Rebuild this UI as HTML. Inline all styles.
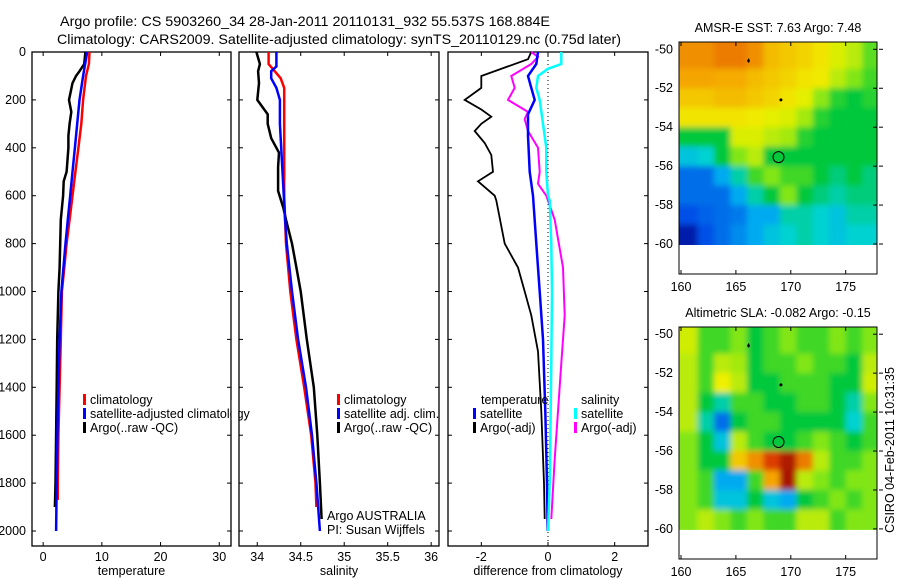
<!DOCTYPE html>
<html><head><meta charset="utf-8"><style>
body{margin:0;background:#fff}
svg{display:block;font-family:"Liberation Sans",sans-serif;font-size:12.5px}
</style></head><body>
<svg id="s" width="900" height="580" xmlns="http://www.w3.org/2000/svg">
<defs>
<clipPath id="c1"><rect x="679" y="42" width="198" height="203"/></clipPath>
<clipPath id="c2"><rect x="679" y="327" width="198" height="203"/></clipPath>
<filter id="bl" x="-5%" y="-5%" width="110%" height="110%"><feGaussianBlur stdDeviation="3"/></filter>
</defs>
<text x="60" y="26" textLength="490" lengthAdjust="spacingAndGlyphs" font-size="14">Argo profile: CS 5903260_34 28-Jan-2011 20110131_932 55.537S 168.884E</text>
<text x="57" y="44" textLength="564" lengthAdjust="spacingAndGlyphs" font-size="14">Climatology: CARS2009. Satellite-adjusted climatology: synTS_20110129.nc (0.75d later)</text>
<g id="g"></g>
<text transform="translate(894,450) rotate(-90)" text-anchor="middle">CSIRO 04-Feb-2011 10:31:35</text>
</svg>
<script>
// ---- data ----
const tClimD=[0,50,100,200,300,400,500,600,700,800,900,1000,1200,1400,1600,1800,1870];
const tClimV=[7.9,7.8,7.3,6.8,6.5,6.0,5.5,5.0,4.5,4.0,3.6,3.2,3.0,2.8,2.6,2.5,2.5];
const tSatD=[0,100,200,300,400,500,600,700,800,1000,1200,1500,1800,2000];
const tSatV=[7.5,6.8,6.2,5.8,5.4,5.0,4.6,4.2,3.8,3.1,2.8,2.5,2.3,2.2];
const tArgD=[0,50,80,100,130,200,250,300,350,400,500,540,600,700,800,900,1000,1200,1400,1600,1800,1900];
const tArgV=[7.2,7.0,6.2,5.6,5.0,4.4,4.8,4.5,4.3,4.3,4.0,3.5,3.4,3.0,2.9,2.8,2.6,2.4,2.3,2.2,2.1,2.0];
const sClimD=[0,50,80,110,150,400,600,800,1000,1200,1400,1600,1800,1900];
const sClimV=[34.13,34.13,34.2,34.27,34.31,34.31,34.31,34.33,34.38,34.45,34.54,34.62,34.67,34.68];
const sSatD=[0,60,80,110,150,200,300,500,700,800,1000,1200,1400,1600,1800,2000];
const sSatV=[34.22,34.22,34.16,34.16,34.22,34.26,34.26,34.29,34.32,34.34,34.4,34.47,34.56,34.63,34.68,34.72];
const sArgD=[0,50,80,130,200,260,300,360,420,480,580,650,700,800,900,1000,1200,1400,1600,1800,1950];
const sArgV=[33.99,34.03,34.01,34.02,34.0,34.12,34.12,34.16,34.25,34.24,34.24,34.3,34.33,34.4,34.45,34.5,34.57,34.65,34.69,34.72,34.74];
const dTArgD=[0,30,60,100,150,200,240,270,300,330,380,430,500,540,600,620,800,900,1000,1100,1250,1500,1800,1950];
const dTArgV=[-0.5,-0.6,-1.2,-2.0,-2.0,-2.5,-2.0,-1.7,-2.0,-2.2,-1.9,-1.7,-1.65,-2.1,-1.6,-1.55,-1.3,-0.9,-0.7,-0.5,-0.3,-0.2,-0.12,-0.1];
const dTSatD=[0,50,100,150,200,260,350,500,600,800,1000,1200,1500,1800,2000];
const dTSatV=[-0.3,-0.35,-0.6,-0.5,-0.4,-0.6,-0.6,-0.55,-0.45,-0.35,-0.25,-0.15,-0.08,-0.03,-0.01];
const dSSatD=[0,50,70,100,150,200,300,400,500,600,620,800,1000,1300,1500,1800,2000];
const dSSatV=[0.4,0.4,0.0,-0.3,-0.35,-0.25,-0.15,-0.05,-0.05,0.0,0.05,0.1,0.12,0.1,0.08,0.05,0.0];
const dSArgD=[0,20,50,100,150,200,250,280,330,400,500,550,600,700,900,1100,1300,1500,1700,1950];
const dSArgV=[-0.5,-0.3,-0.5,-1.1,-1.0,-1.2,-0.6,-0.7,-0.6,-0.3,-0.25,-0.3,-0.05,0.2,0.45,0.5,0.4,0.3,0.2,0.1];
const depthTicks=[0,200,400,600,800,1000,1200,1400,1600,1800,2000];
const tTicks=[0,10,20,30];
const sTicks=[34,34.5,35,35.5,36];
const sTickLabels=["34","34.5","35","35.5","36"];
const dTicks=[-2,0,2];
const lonTicks=[160,165,170,175];
const latTicks=[-50,-52,-54,-56,-58,-60];
const sstGrid=[
[.8,.8,.82,.82,.8,.74,.72,.7,.67,.63,.6,.52],
[.78,.78,.77,.77,.74,.72,.7,.67,.66,.6,.55,.5],
[.72,.72,.74,.74,.72,.7,.67,.64,.56,.48,.45,.48],
[.67,.67,.67,.67,.66,.64,.63,.58,.48,.45,.45,.45],
[.45,.45,.45,.63,.63,.6,.58,.48,.45,.45,.45,.45],
[.35,.38,.45,.55,.6,.45,.45,.45,.45,.45,.45,.45],
[.2,.2,.3,.4,.5,.55,.5,.5,.45,.42,.45,.42],
[.2,.2,.2,.3,.4,.45,.55,.45,.42,.4,.42,.42],
[.15,.18,.2,.22,.3,.3,.4,.4,.38,.35,.4,.4],
[.05,.15,.2,.25,.3,.35,.38,.4,.38,.35,.38,.38]];
const slaGrid=[
[.62,.5,.5,.55,.45,.5,.55,.5,.5,.55,.5,.55],
[.6,.5,.6,.58,.45,.5,.5,.55,.5,.5,.45,.6],
[.6,.5,.65,.6,.45,.45,.5,.5,.5,.45,.45,.62],
[.6,.45,.4,.5,.5,.45,.45,.5,.5,.45,.4,.55],
[.6,.4,.2,.45,.5,.5,.45,.45,.45,.45,.38,.5],
[.55,.45,.35,.6,.5,.45,.45,.5,.55,.5,.45,.5],
[.55,.45,.45,.72,.8,.88,.94,.82,.6,.5,.5,.55],
[.55,.5,.3,.3,.5,.78,.95,.6,.55,.5,.55,.55],
[.55,.5,.35,.35,.45,.35,.3,.45,.5,.55,.5,.55],
[.55,.6,.55,.5,.55,.5,.5,.6,.6,.5,.55,.55]];
const floatLon=168.884, floatLat=-55.537;

// ---- helpers ----
const NS="http://www.w3.org/2000/svg", G=document.getElementById('g');
function mk(tag,at,txt,parent){const e=document.createElementNS(NS,tag);for(const k in at)e.setAttribute(k,at[k]);if(txt!=null)e.textContent=txt;(parent||G).appendChild(e);return e;}
const PT=52, PB=546;
const yD=d=>PT+d*0.2395;
function panel(x0,x1,xmin,xmax,xt,xtl,xlabel,name){
  const sx=v=>x0+(v-xmin)/(xmax-xmin)*(x1-x0);
  const f=mk('rect',{x:x0,y:PT,width:x1-x0,height:PB-PT,fill:'none',stroke:'#000','stroke-width':1.3});
  
  xt.forEach((v,i)=>{const x=sx(v);
    mk('line',{x1:x,x2:x,y1:PB,y2:PB-4,stroke:'#000'});mk('line',{x1:x,x2:x,y1:PT,y2:PT+4,stroke:'#000'});
    const t=mk('text',{x:x,y:PB+15,'text-anchor':'middle'},xtl[i]);});
  depthTicks.forEach(d=>{const y=yD(d);mk('line',{x1:x0,x2:x0+4,y1:y,y2:y,stroke:'#000'});mk('line',{x1:x1,x2:x1-4,y1:y,y2:y,stroke:'#000'});});
  const l=mk('text',{x:(x0+x1)/2,y:575,'text-anchor':'middle'},xlabel);
  return sx;
}
function line(sx,D,V,col,w,name){
  let p='';D.forEach((d,i)=>{p+=(i?'L':'M')+sx(V[i]).toFixed(1)+','+yD(d).toFixed(1);});
  const e=mk('path',{d:p,fill:'none',stroke:col,'stroke-width':w});
  
}
function leg(x,y,col,txt,name){
  if(col)mk('rect',{x:x,y:y-10,width:3,height:11,fill:col});
  const t=mk('text',{x:x+7,y:y},txt);
}
depthTicks.forEach(d=>{const t=mk('text',{x:26,y:yD(d)+4,'text-anchor':'end'},String(d));});

// panel 1
const s1=panel(32,231,-1.9,32,tTicks,tTicks.map(String),'temperature','temperature-panel');
line(s1,tClimD,tClimV,'#f00',2.5,'temp-climatology-line');
line(s1,tArgD,tArgV,'#000',2.5,'temp-argo-line');
line(s1,tSatD,tSatV,'#00f',2.5,'temp-satellite-line');
leg(83,404,'#f00','climatology','legend-climatology');
leg(83,418,'#00f','satellite-adjusted climatology','legend-satellite-adjusted');
leg(83,432,'#000','Argo(..raw -QC)','legend-argo');
mk('rect',{x:231.7,y:400,width:6.6,height:20,fill:'#fff'});

// panel 2
const s2=panel(239,439,33.79,36.09,sTicks,sTickLabels,'salinity','salinity-panel');
line(s2,sClimD,sClimV,'#f00',2.5,'sal-climatology-line');
line(s2,sArgD,sArgV,'#000',2.5,'sal-argo-line');
line(s2,sSatD,sSatV,'#00f',2.5,'sal-satellite-line');
leg(337,404,'#f00','climatology','legend-climatology-2');
leg(337,418,'#00f','satellite adj. clim.','legend-satellite-2');
leg(337,432,'#000','Argo(..raw -QC)','legend-argo-2');
leg(320,520,null,'Argo AUSTRALIA','agency-label');
leg(320,534,null,'PI: Susan Wijffels','pi-label');

// panel 3
const s3=panel(448,648,-3,3,dTicks,dTicks.map(String),'difference from climatology','difference-panel');
mk('line',{x1:s3(0),x2:s3(0),y1:PT,y2:PB,stroke:'#000','stroke-dasharray':'1,3'});
line(s3,dTArgD,dTArgV,'#000',1.8,'diff-temp-argo-line');
line(s3,dSArgD,dSArgV,'#f0f',2,'diff-sal-argo-line');
line(s3,dTSatD,dTSatV,'#00f',2.5,'diff-temp-satellite-line');
line(s3,dSSatD,dSSatV,'#0ff',2.5,'diff-sal-satellite-line');
leg(474,404,null,'temperature','legend-temperature-heading');
leg(473,418,'#00f','satellite','legend-temp-satellite');
leg(473,432,'#000','Argo(-adj)','legend-temp-argo');
leg(574,404,null,'salinity','legend-salinity-heading');
leg(574,418,'#0ff','satellite','legend-sal-satellite');
leg(574,432,'#f0f','Argo(-adj)','legend-sal-argo');

// maps
function cmap(v){
  const st=[[0,[0,0,140]],[.15,[0,80,230]],[.3,[0,170,240]],[.38,[0,210,210]],[.45,[0,200,60]],[.55,[130,230,20]],[.65,[240,240,0]],[.78,[245,165,0]],[.88,[220,60,0]],[1,[130,0,0]]];
  for(let i=1;i<st.length;i++)if(v<=st[i][0]){const a=st[i-1],b=st[i],t=(v-a[0])/(b[0]-a[0]);return 'rgb('+a[1].map((c,j)=>Math.round(c+(b[1][j]-c)*t)).join(',')+')';}
  return 'rgb(130,0,0)';
}
function map(top,lat50,grid,title,name,clip){
  const lx=lon=>681+(lon-160)*10.98, ly=lat=>lat50+(-50-lat)*19.47;
  const H=232;
  const cg=mk('g',{'clip-path':clip});
  const bg=mk('g',{filter:'url(#bl)'},null,cg);
  grid.forEach((row,r)=>row.forEach((v,c)=>{
    const e=mk('rect',{x:lx(160+c*1.5)-(c==0?8:0),y:ly(-50-r)-(r==0?12:0),width:1.5*10.98+1+(c==0||c==11?8:0),height:19.47+1+(r==0?12:0)+(r==9?8:0),fill:cmap(v)},null,bg);
    
  }));
  mk('rect',{x:679,y:ly(-60)+1,width:198,height:40,fill:'#fff'},null,cg);
  const fr=mk('rect',{x:679,y:top,width:198,height:H,fill:'none',stroke:'#000','stroke-width':1});
  
  lonTicks.forEach(l=>{const x=lx(l);mk('line',{x1:x,x2:x,y1:top+H,y2:top+H-4,stroke:'#000'});mk('line',{x1:x,x2:x,y1:top,y2:top+4,stroke:'#000'});
    const t=mk('text',{x:x,y:top+H+17,'text-anchor':'middle'},String(l));});
  latTicks.forEach(l=>{const y=ly(l);mk('line',{x1:877,x2:873,y1:y,y2:y,stroke:'#000'});mk('line',{x1:879,x2:883,y1:y,y2:y,stroke:'#000'});
    const t=mk('text',{x:673,y:y+4,'text-anchor':'end'},String(l));});
  mk('path',{d:`M${lx(166.0)},${ly(-50.6)} l2,-3 l1,3 l-1,2z`,fill:'#000'});
  mk('circle',{cx:lx(169.1),cy:ly(-52.6),r:1.5,fill:'#000'});
  const c=mk('circle',{cx:lx(floatLon),cy:ly(floatLat),r:5.5,fill:'none',stroke:'#000'});
  
  const t=mk('text',{x:778,y:top-10,'text-anchor':'middle'},title);
}
map(42,49.3,sstGrid,'AMSR-E SST: 7.63 Argo: 7.48','sst-map','url(#c1)');
map(327,334.2,slaGrid,'Altimetric SLA: -0.082 Argo: -0.15','sla-map','url(#c2)');
</script>
</body></html>
